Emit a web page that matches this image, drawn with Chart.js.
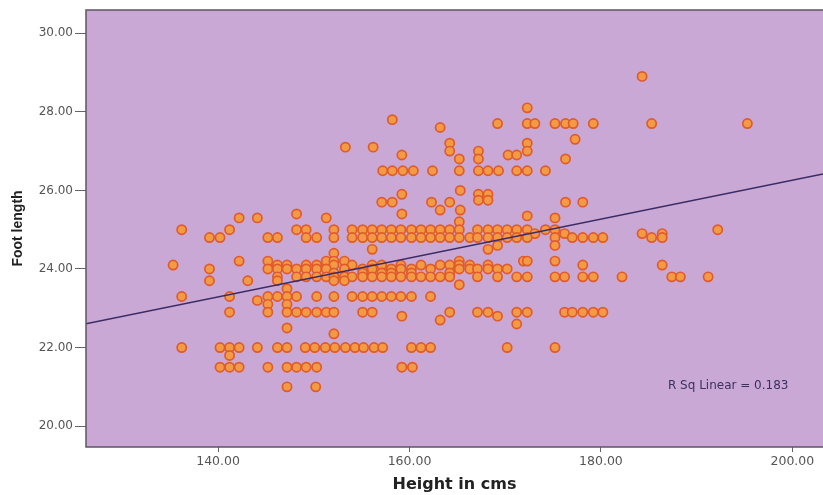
<!DOCTYPE html>
<html>
<head>
<meta charset="utf-8">
<script src="https://cdn.jsdelivr.net/npm/chart.js@4"></script>
<style>
  html, body { margin: 0; padding: 0; background: #ffffff; }
  canvas { display: block; }
</style>
</head>
<body>
<canvas id="myChart" width="823" height="495"></canvas>
<script>
// Foot length levels (cm) and the heights (cm) of the subjects found at each level
const footLengthLevels = [
    28.9, 28.1, 27.8, 27.7, 27.6, 27.3, 27.2, 27.1, 27.0, 26.9, 26.8, 26.5,
    26.0, 25.9, 25.75, 25.7, 25.5, 25.4, 25.35, 25.3, 25.2, 25.0, 24.9, 24.8,
    24.6, 24.5, 24.4, 24.2, 24.1, 24.0, 23.9, 23.8, 23.7, 23.6, 23.5, 23.3,
    23.2, 23.1, 22.9, 22.8, 22.7, 22.6, 22.5, 22.35, 22.0, 21.8, 21.5, 21.0
];
const heightsAtLevel = [
    [184.3],
    [172.3],
    [158.2],
    [169.2, 172.3, 173.1, 175.2, 176.3, 177.1, 179.2, 185.3, 195.3],
    [163.2],
    [177.3],
    [164.2, 172.3],
    [153.3, 156.2],
    [164.2, 167.2, 172.3],
    [159.2, 170.3, 171.2],
    [165.2, 167.2, 176.3],
    [157.2, 158.2, 159.3, 160.4, 162.4, 165.2, 167.2, 168.2, 169.3, 171.2, 172.3, 174.2],
    [165.3],
    [159.2, 167.2, 168.2],
    [167.2, 168.2],
    [157.1, 158.2, 162.3, 164.2, 176.3, 178.1],
    [163.2, 165.3],
    [148.2, 159.2],
    [172.3],
    [142.2, 144.1, 151.3, 175.2],
    [165.2],
    [136.2, 141.2, 148.2, 149.2, 152.1, 154.0, 155.1, 156.1, 157.1, 158.1, 159.1, 160.2, 161.2,
     162.2, 163.2, 164.2, 165.2, 167.1, 168.2, 169.2, 170.2, 171.2, 172.3, 174.2, 175.2, 192.2],
    [173.1, 176.2, 184.3, 186.4],
    [139.1, 140.2, 145.2, 146.2, 149.2, 150.3, 152.1, 154.0, 155.1, 156.1, 157.1, 158.1, 159.1,
     160.2, 161.2, 162.2, 163.2, 164.2, 165.2, 166.3, 167.1, 168.2, 169.2, 170.2, 171.2, 172.3,
     175.2, 177.0, 178.1, 179.2, 180.2, 185.3, 186.4],
    [169.2, 175.2],
    [156.1, 168.2],
    [152.1],
    [142.2, 145.2, 151.3, 152.1, 153.2, 165.2, 171.9, 172.3, 175.2],
    [135.3, 146.2, 147.2, 149.2, 150.3, 152.1, 154.0, 156.1, 157.1, 159.1, 161.2, 163.2, 164.2,
     165.2, 166.3, 168.2, 178.1, 186.4],
    [139.1, 145.2, 146.2, 147.2, 148.2, 149.2, 150.3, 151.3, 153.2, 155.1, 156.1, 158.1, 159.1,
     160.2, 162.2, 165.2, 166.3, 167.1, 168.2, 169.2, 170.2],
    [152.1, 155.1, 157.1, 158.1, 160.2, 164.2],
    [146.2, 148.2, 149.2, 150.3, 151.3, 152.1, 153.2, 154.0, 155.1, 156.1, 157.1, 158.1, 159.1,
     160.2, 161.2, 162.2, 163.2, 164.2, 167.1, 169.2, 171.2, 172.3, 175.2, 176.2, 178.1, 179.2,
     182.2, 187.4, 188.3, 191.2],
    [139.1, 143.1, 146.2, 152.1, 153.2],
    [165.2],
    [147.2],
    [136.2, 141.2, 145.2, 146.2, 147.2, 148.2, 150.3, 152.1, 154.0, 155.1, 156.1, 157.1, 158.1,
     159.1, 160.2, 162.2],
    [144.1],
    [145.2, 147.2],
    [141.2, 145.2, 147.2, 148.2, 149.2, 150.3, 151.3, 152.1, 155.1, 156.1, 164.2, 167.1, 168.2,
     171.2, 172.3, 176.2, 177.0, 178.1, 179.2, 180.2],
    [159.2, 169.2],
    [163.2],
    [171.2],
    [147.2],
    [152.1],
    [136.2, 140.2, 141.2, 142.2, 144.1, 146.2, 147.2, 149.1, 150.1, 151.2, 152.2, 153.3, 154.3,
     155.2, 156.3, 157.2, 160.2, 161.2, 162.2, 170.2, 175.2],
    [141.2],
    [140.2, 141.2, 142.2, 145.2, 147.2, 148.2, 149.2, 150.3, 159.2, 160.3],
    [147.2, 150.2]
];

// Axis ranges and tick labels
const heightRange = [126.2, 203.2];
const footRange = [19.47, 30.59];
const heightTicks = [140, 160, 180, 200];
const footTicks = [20, 22, 24, 26, 28, 30];

// Fit line
const fitIntercept = 16.36;
const fitSlope = 0.0495;
const rSquared = 0.183;

const points = footLengthLevels.flatMap((foot, i) =>
    heightsAtLevel[i].map(h => ({ x: h, y: foot })));

const fitPoints = heightRange.map(h => ({ x: h, y: fitIntercept + fitSlope * h }));

const plotBackground = {
    id: 'plotBackground',
    beforeDatasetsDraw(chart) {
        const { ctx, chartArea } = chart;
        ctx.save();
        ctx.fillStyle = '#c9a8d5';
        ctx.fillRect(chartArea.left, chartArea.top, chartArea.right - chartArea.left, chartArea.bottom - chartArea.top);
        ctx.restore();
    },
    afterDatasetsDraw(chart) {
        const { ctx, chartArea, scales } = chart;
        ctx.save();
        // frame
        ctx.strokeStyle = '#5e5466';
        ctx.lineWidth = 1.5;
        ctx.beginPath();
        ctx.moveTo(chartArea.right + 2, chartArea.top);
        ctx.lineTo(chartArea.left, chartArea.top);
        ctx.lineTo(chartArea.left, chartArea.bottom);
        ctx.lineTo(chartArea.right + 2, chartArea.bottom);
        ctx.stroke();
        // R squared label
        ctx.fillStyle = '#3b3160';
        ctx.font = '12px "DejaVu Sans", sans-serif';
        ctx.textBaseline = 'middle';
        ctx.fillText('R Sq Linear = ' + rSquared.toFixed(3), scales.x.getPixelForValue(187.0), scales.y.getPixelForValue(21.02));
        ctx.restore();
    }
};

const ctx = document.getElementById('myChart').getContext('2d');
const myChart = new Chart(ctx, {
    type: 'scatter',
    data: {
        datasets: [{
            type: 'line',
            label: 'Fit',
            data: fitPoints,
            borderColor: '#3a2c66',
            borderWidth: 1.5,
            pointRadius: 0,
            order: 0
        }, {
            label: 'Foot length',
            data: points,
            pointRadius: 4.6,
            backgroundColor: '#f39a45',
            borderColor: '#e05a2a',
            borderWidth: 1.7,
            order: 1
        }]
    },
    options: {
        responsive: false,
        animation: false,
        layout: { autoPadding: false, padding: { top: 10, right: 0, left: 0, bottom: 0 } },
        plugins: {
            legend: { display: false },
            tooltip: { enabled: false }
        },
        scales: {
            x: {
                type: 'linear',
                min: heightRange[0],
                max: heightRange[1],
                afterBuildTicks: scale => { scale.ticks = heightTicks.map(v => ({ value: v })); },
                afterFit: scale => {
                    scale.height = 48;
                    scale.paddingLeft = 0;
                    scale.paddingRight = 0;
                },
                grid: { display: true, drawOnChartArea: false, tickLength: 5, color: '#6a6070', lineWidth: 1 },
                border: { display: false },
                ticks: {
                    padding: 2,
                    color: '#555555',
                    font: { family: '"DejaVu Sans", sans-serif', size: 12.5 },
                    callback: v => v.toFixed(2)
                },
                title: {
                    display: true,
                    text: 'Height in cms',
                    color: '#222222',
                    padding: { top: 0, bottom: 1 },
                    font: { family: '"DejaVu Sans", sans-serif', size: 16, weight: 'bold' }
                }
            },
            y: {
                type: 'linear',
                min: footRange[0],
                max: footRange[1],
                afterBuildTicks: scale => { scale.ticks = footTicks.map(v => ({ value: v })); },
                afterFit: scale => { scale.width = 86; },
                grid: { display: true, drawOnChartArea: false, tickLength: 11, color: '#6a6070', lineWidth: 1 },
                border: { display: false },
                ticks: {
                    padding: 2,
                    color: '#555555',
                    font: { family: '"DejaVu Sans", sans-serif', size: 12 },
                    callback: v => v.toFixed(2)
                },
                title: {
                    display: true,
                    text: 'Foot length',
                    color: '#222222',
                    padding: { top: 10, bottom: 0 },
                    font: { family: '"Liberation Sans", Arial, sans-serif', size: 14, weight: 'bold' }
                }
            }
        }
    },
    plugins: [plotBackground]
});
</script>
</body>
</html>
